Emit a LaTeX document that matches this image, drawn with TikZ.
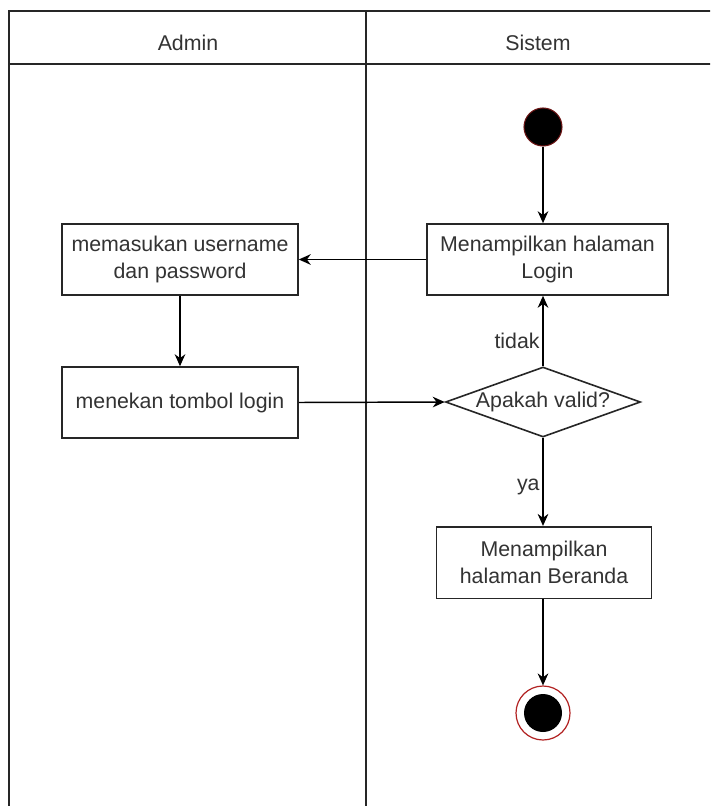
\documentclass[tikz,border=0pt]{standalone}
\usepackage{fontspec}
\setmainfont{Liberation Sans}
\usetikzlibrary{shapes.geometric,arrows.meta}
\definecolor{ink}{HTML}{333333}
\definecolor{ring}{HTML}{B22222}
\begin{document}
\begin{tikzpicture}[x=0.75pt,y=-0.75pt,
  font=\fontsize{16pt}{19.9pt}\selectfont,
  lane/.style={line width=1.3pt,draw=black!85},
  actbox/.style={draw=black!85,line width=1.2pt,fill=white,rectangle,
    align=center,text=ink,inner sep=0pt},
  decision/.style={draw=black!85,line width=1.2pt,fill=white,diamond,
    aspect=2.8,inner sep=0pt,text=ink,minimum width=146.25pt,minimum height=52.5pt},
  flow/.style={line width=1.1pt,-{Stealth[length=9pt,width=8pt]}},
  guard/.style={text=ink,inner sep=2pt}]
  \useasboundingbox (0,0) rectangle (710,806);
  \fill[white] (0,0) rectangle (710,806);
  \begin{scope}
    \clip (0,0) rectangle (710,806);
    % swimlane frame with its two lanes
    \draw[lane] (9,10.7) rectangle (714,810);
    \draw[lane] (9,64) -- (714,64);
    \draw[lane] (366,10.7) -- (366,810);
  \end{scope}
  \node[text=ink] (hadmin) at (188,43) {Admin};
  \node[text=ink] (hsistem) at (538,43) {Sistem};

  % activity nodes
  \node[circle,fill=black,draw=ring!60!black,line width=0.8pt,minimum size=28.5pt,inner sep=0pt] (start) at (543,127) {};
  \node[actbox,minimum width=180.75pt,minimum height=53.25pt] (login) at (547.5,259.5) {Menampilkan halaman\\Login};
  \node[actbox,minimum width=177pt,minimum height=53.25pt] (user) at (180,259.5) {memasukan username\\dan password};
  \node[actbox,minimum width=177pt,minimum height=53.25pt] (tekan) at (180,402.5) {menekan tombol login};
  \node[decision] (valid) at (543,402) {Apakah valid?};
  \node[actbox,minimum width=161.25pt,minimum height=53.7pt] (beranda) at (544,562.5) {Menampilkan\\halaman Beranda};
  \node[circle,draw=ring,line width=0.9pt,fill=white,minimum size=40.5pt,inner sep=0pt] (finish) at (543,713) {};
  \node[circle,fill=black,minimum size=28.5pt,inner sep=0pt] (finishdot) at (finish) {};

  % control flow
  \draw[flow] (start.south) -- (start.south |- login.north);
  \draw[flow] (login.west) -- (user.east);
  \draw[flow] (user.south) -- (tekan.north);
  \draw[flow] (tekan.east) -- (valid.west);
  \draw[flow] (valid.north) -- node[guard,anchor=east,pos=0.36] {tidak} (valid.north |- login.south);
  \draw[flow] (valid.south) -- node[guard,anchor=east,pos=0.56] {ya} (valid.south |- beranda.north);
  \draw[flow] (beranda.south -| finish) -- (finish.north);
\end{tikzpicture}
\end{document}
